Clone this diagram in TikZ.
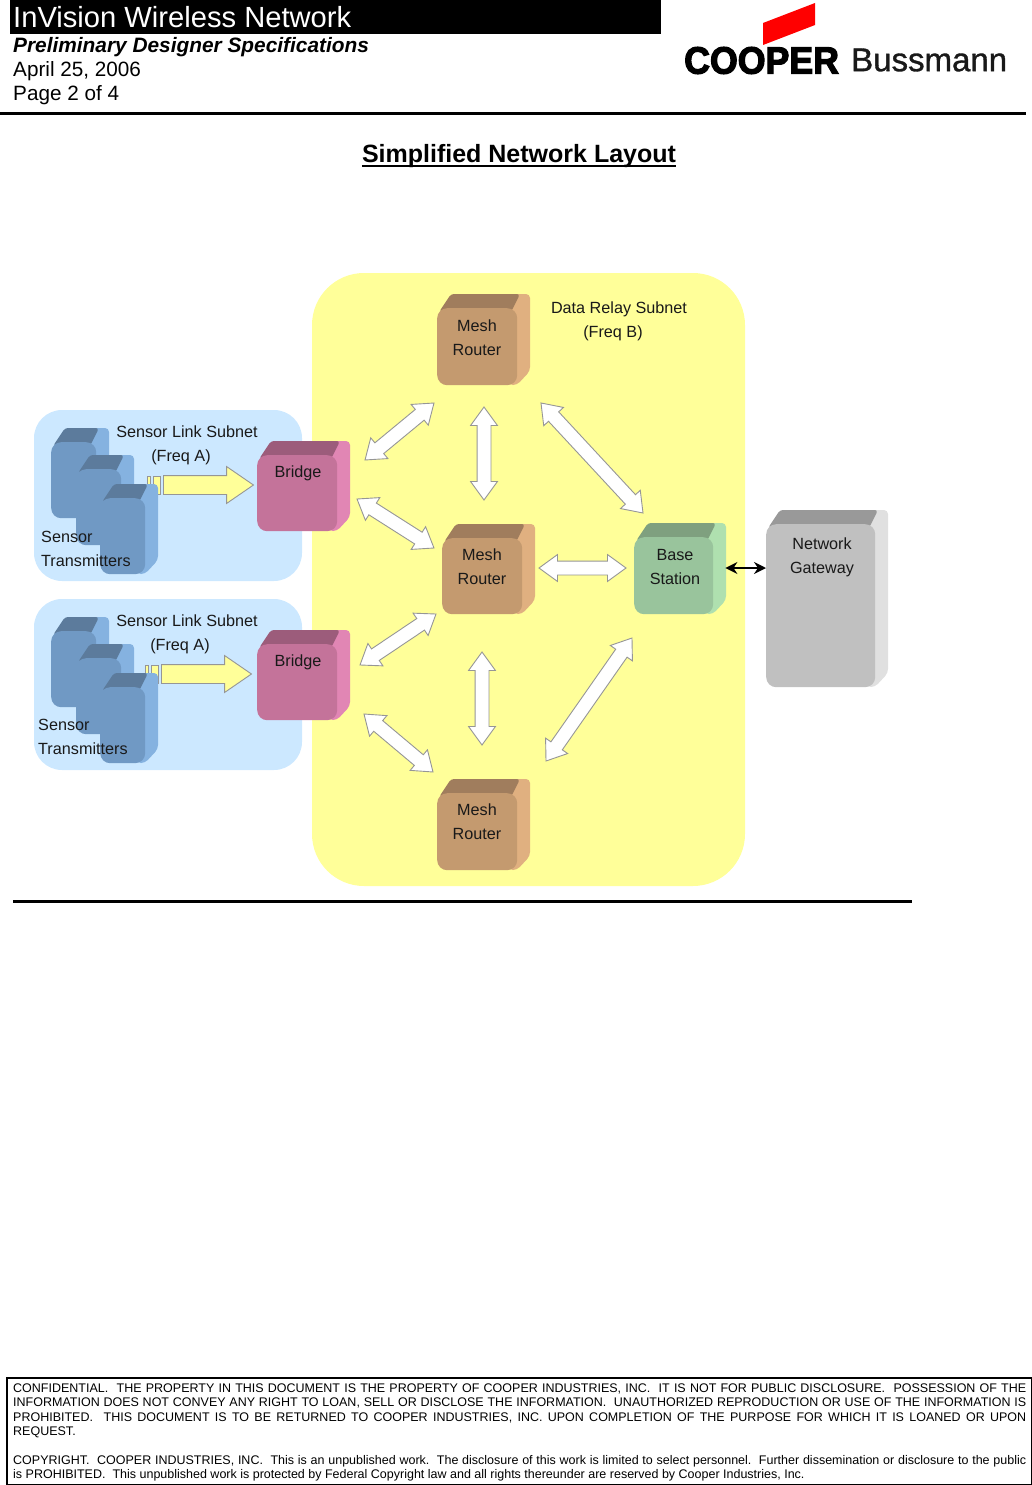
\documentclass[tikz,border=0pt]{standalone}
\usepackage{fontspec}
\setmainfont{Liberation Sans}
\newfontfamily\logofont[FakeBold=3.2]{Liberation Sans Bold}
\newfontfamily\logolight[FakeBold=1]{Liberation Sans}
\usetikzlibrary{shapes, shapes.arrows, arrows.meta, positioning, calc}
\definecolor{subnetblue}{RGB}{204, 232, 255}
\definecolor{subnetyellow}{RGB}{255, 255, 153}
\definecolor{bridgefront}{RGB}{196, 115, 154}
\definecolor{bridgetop}{RGB}{156, 92, 123}
\definecolor{bridgeside}{RGB}{225, 134, 180}
\definecolor{meshfront}{RGB}{196, 154, 111}
\definecolor{meshtop}{RGB}{160, 125, 93}
\definecolor{meshside}{RGB}{224, 176, 128}
\definecolor{basefront}{RGB}{153, 196, 156}
\definecolor{basetop}{RGB}{127, 160, 127}
\definecolor{baseside}{RGB}{175, 224, 175}
\definecolor{sensorfront}{RGB}{112, 153, 196}
\definecolor{sensortop}{RGB}{92, 123, 156}
\definecolor{sensorside}{RGB}{133, 178, 224}
\definecolor{gatewayfront}{RGB}{192, 192, 192}
\definecolor{gatewaytop}{RGB}{153, 153, 153}
\definecolor{gatewayside}{RGB}{224, 224, 224}
\definecolor{arrowedge}{RGB}{150, 150, 150}
\tikzset{
  boxlabel/.style={font=\fontsize{16.2}{24}\selectfont, align=center, inner sep=0pt, text=black!90},
  sidelabel/.style={boxlabel, align=left, anchor=west},
  subnet/.style={rounded corners=28pt, fill=subnetblue},
  linkarrow/.style={draw=arrowedge, fill=white, line width=0.9pt, shape=double arrow, inner sep=0pt,
    text height=13pt, text depth=0pt, text width=0pt, double arrow head extend=6.5pt, double arrow head indent=0pt,
    double arrow tip angle=72},
  feedarrow/.style={draw=arrowedge, fill=subnetyellow, line width=0.9pt, shape=single arrow, inner sep=0pt,
    text height=18pt, text depth=0pt, minimum height=90pt, single arrow head extend=9pt, single arrow head indent=0pt,
    single arrow tip angle=69, anchor=tail},
  feedstrip/.style={draw=arrowedge, fill=subnetyellow, line width=0.9pt},
}
% #1 name, #2 colour prefix, #3 x, #4 y (front corner), #5 width, #6 height
\newcommand{\cubebox}[6]{
  \fill[#2side, rounded corners=4pt] ({#3+#5-8},{#4+1}) -- ({#3+#5-2},{#4-14}) -- ({#3+#5+13},{#4-14})
    -- ({#3+#5+13},{#4+#6-14}) -- ({#3+#5},{#4+#6}) -- ({#3+#5-8},{#4+#6}) -- cycle;
  \fill[#2top, rounded corners=3pt] ({#3+2},{#4+4}) -- ({#3+14},{#4-14}) -- ({#3+#5+3},{#4-14}) -- ({#3+#5-6},{#4+4}) -- cycle;
  \node[#2front, fill=#2front, anchor=north west, rounded corners=10pt, inner sep=0pt,
    minimum width=#5pt, minimum height=#6pt] (#1) at (#3,#4) {};
}
\begin{document}
\begin{tikzpicture}[x=1pt, y=-1pt]
  \useasboundingbox (0,0) rectangle (1032,1485);

  % page header
  \fill[black] (10,0) rectangle (661,34);
  \node[anchor=west, inner sep=0pt, text=white, font=\fontsize{29.15}{30}\selectfont] (doctitle) at (13,17) {InVision Wireless Network};
  \node[anchor=west, inner sep=0pt, font=\fontsize{20.85}{22}\selectfont\bfseries\itshape] (docsubtitle) at (13,47) {Preliminary Designer Specifications};
  \node[anchor=west, inner sep=0pt, font=\fontsize{20.7}{22}\selectfont] (docdate) at (13,71) {April 25, 2006};
  \node[anchor=west, inner sep=0pt, font=\fontsize{20.7}{22}\selectfont] (docpage) at (13,95) {Page 2 of 4};
  \fill[red] (763,23) -- (815,3) -- (815,25) -- (763,45) -- cycle;
  \node[anchor=west, inner sep=0pt, font=\fontsize{38}{38}\logofont] (logocooper) at (684,60.5) {\scalebox{.94}[1]{COOPER}};
  \node[anchor=west, inner sep=0pt, font=\fontsize{33}{36}\logolight, text=black!90] (logobussmann) at (851,60) {Bussmann};
  \fill[black] (0,112) rectangle (1026,115);
  \node[inner sep=0pt, font=\fontsize{25}{26}\selectfont\bfseries] (pagetitle) at (519,156) {Simplified Network Layout};
  \draw[line width=2pt] ($(pagetitle.base west)+(0,3.5)$) -- ($(pagetitle.base east)+(0,3.5)$);

  % subnets
  \fill[subnetyellow, rounded corners=52pt] (312,273) rectangle (745,886);
  \fill[subnet] (34,410) rectangle (302,581);
  \fill[subnet] (34,599) rectangle (302,770);

  % feed arrows into the bridges
  \node[feedarrow] (feedA) at (163,485) {};
  \draw[feedstrip] (147,476) rectangle (150,494);
  \draw[feedstrip] (153,476) rectangle (160,494);
  \node[feedarrow] (feedB) at (161,674) {};
  \draw[feedstrip] (145,665) rectangle (148,683);
  \draw[feedstrip] (151,665) rectangle (158,683);

  % sensors
  \cubebox{sensorAa}{sensor}{51}{442}{45}{76}
  \cubebox{sensorAb}{sensor}{76}{469}{45}{76}
  \cubebox{sensorAc}{sensor}{100}{498}{45}{76}
  \cubebox{sensorBa}{sensor}{51}{631}{45}{76}
  \cubebox{sensorBb}{sensor}{76}{658}{45}{76}
  \cubebox{sensorBc}{sensor}{100}{687}{45}{76}

  % bridges, routers, base station, gateway
  \cubebox{bridgeA}{bridge}{257}{455}{80}{76}
  \cubebox{bridgeB}{bridge}{257}{644}{80}{76}
  \cubebox{routerTop}{mesh}{437}{308}{80}{77}
  \cubebox{routerMid}{mesh}{442}{538}{80}{76}
  \cubebox{routerLow}{mesh}{437}{793}{80}{77}
  \cubebox{baseStation}{base}{634}{537}{79}{77}
  \cubebox{gateway}{gateway}{766}{524}{109}{163}

  % white links
  \foreach \name/\xa/\ya/\xb/\yb in {linkA/365/460/434/403, linkB/484/407/484/500, linkC/541/403/643/513,
      linkD/357/499/434/548, linkE/539/568/626/568, linkF/360/665/436/614,
      linkG/482/652/482/745, linkH/632/638/546/761, linkI/364/714/433/772} {
    \pgfmathsetmacro{\linkangle}{atan2(\ya-\yb,\xb-\xa)}
    \pgfmathsetmacro{\linklen}{veclen(\xb-\xa,\yb-\ya)}
    \node[linkarrow, rotate=\linkangle, minimum height=\linklen pt] (\name) at ({(\xa+\xb)/2},{(\ya+\yb)/2}) {};
  }
  \draw[{Stealth[length=12pt,width=12pt]}-{Stealth[length=12pt,width=12pt]}, line width=1.5pt]
    (baseStation.east |- 0,568) ++(12,0) -- (gateway.west |- 0,568);

  % labels
  \node[boxlabel] (labelRelay) at (619,321) {Data Relay Subnet\\(Freq B)\hspace*{12pt}};
  \node[boxlabel] (labelRouterTop) at (477,338) {Mesh\\Router};
  \node[boxlabel] (labelRouterMid) at (482,567) {Mesh\\Router};
  \node[boxlabel] (labelRouterLow) at (477,822) {Mesh\\Router};
  \node[boxlabel] (labelBase) at (675,567) {Base\\Station};
  \node[boxlabel] (labelGateway) at (822,557) {Network\\Gateway};
  \node[boxlabel] (labelBridgeA) at (298,473) {Bridge};
  \node[boxlabel] (labelBridgeB) at (298,662) {Bridge};
  \node[boxlabel] (labelSubnetA) at (187,445) {Sensor Link Subnet\\(Freq A)\hspace*{12pt}};
  \node[boxlabel] (labelSubnetB) at (187,634) {Sensor Link Subnet\\(Freq A)\hspace*{14pt}};
  \node[sidelabel] (labelSensorA) at (41,549) {Sensor\\Transmitters};
  \node[sidelabel] (labelSensorB) at (38,737) {Sensor\\Transmitters};

  % bottom rule and notice
  \fill[black] (13,900) rectangle (912,902.5);
  \draw[black, line width=1.5pt] (7,1378) rectangle (1031.5,1484.5);
  \node[anchor=north west, inner sep=0pt, text width=1013pt, align=justify, font=\fontsize{12.5}{14.4}\selectfont] (notice) at (13,1383.5) {
    CONFIDENTIAL.\ \ THE PROPERTY IN THIS DOCUMENT IS THE PROPERTY OF COOPER INDUSTRIES, INC.\ \ IT IS NOT FOR PUBLIC DISCLOSURE.\ \ POSSESSION OF THE\linebreak
    INFORMATION DOES NOT CONVEY ANY RIGHT TO LOAN, SELL OR DISCLOSE THE INFORMATION.\ \ UNAUTHORIZED REPRODUCTION OR USE OF THE INFORMATION IS\linebreak
    PROHIBITED.\ \ THIS DOCUMENT IS TO BE RETURNED TO COOPER INDUSTRIES, INC. UPON COMPLETION OF THE PURPOSE FOR WHICH IT IS LOANED OR UPON\linebreak
    REQUEST.\par\vspace{14.4pt}
    COPYRIGHT.\ \ COOPER INDUSTRIES, INC.\ \ This is an unpublished work.\ \ The disclosure of this work is limited to select personnel.\ \ Further dissemination or disclosure to the public\linebreak
    is PROHIBITED.\ \ This unpublished work is protected by Federal Copyright law and all rights thereunder are reserved by Cooper Industries, Inc.\par
  };
\end{tikzpicture}
\end{document}
